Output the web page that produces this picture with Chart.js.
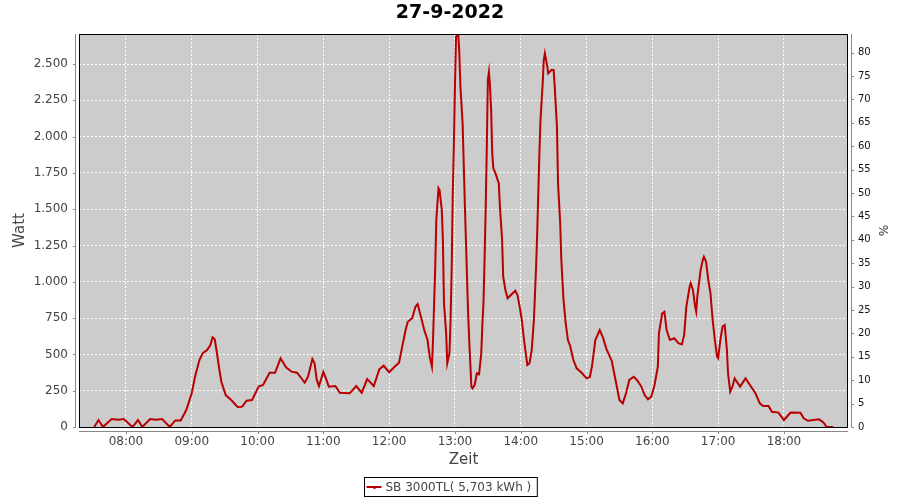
<!DOCTYPE html>
<html lang="de">

<head>
    <meta charset="UTF-8">
    <title>27-9-2022</title>
    <script src="https://cdn.jsdelivr.net/npm/chart.js"></script>
    <style>
        body { margin: 0; background: #fff; }
        #wrap { width: 900px; height: 500px; }
    </style>
</head>

<body>
    <div id="wrap"><canvas id="chart" width="900" height="500"></canvas></div>

    <script>
        // readings of the inverter, time of day and power in watt
        const times = ['07:31', '07:35', '07:39', '07:47', '07:53', '07:58', '08:06', '08:11', '08:15', '08:22',
            '08:27', '08:33', '08:40', '08:45', '08:50', '08:55', '09:00', '09:03', '09:07', '09:10',
            '09:14', '09:17', '09:19', '09:21', '09:23', '09:25', '09:27', '09:31', '09:36', '09:42',
            '09:46', '09:50', '09:55', '10:01', '10:05', '10:11', '10:16', '10:21', '10:26', '10:31',
            '10:36', '10:39', '10:43', '10:46', '10:50', '10:52', '10:54', '10:56', '11:00', '11:02',
            '11:05', '11:11', '11:15', '11:24', '11:30', '11:35', '11:40', '11:46', '11:51', '11:55',
            '12:00', '12:05', '12:09', '12:11', '12:15', '12:17', '12:21', '12:24', '12:26', '12:29',
            '12:32', '12:35', '12:37', '12:39', '12:40', '12:42', '12:43', '12:45', '12:46', '12:48',
            '12:49', '12:50', '12:52', '12:53', '12:55', '12:56', '12:57', '12:58', '12:59', '13:00',
            '13:01', '13:03', '13:04', '13:05', '13:07', '13:08', '13:09', '13:11', '13:12', '13:13',
            '13:15', '13:16', '13:18', '13:20', '13:22', '13:24', '13:25', '13:26', '13:27', '13:28',
            '13:29', '13:30', '13:31', '13:32', '13:33', '13:34', '13:35', '13:37', '13:40', '13:41',
            '13:43', '13:44', '13:46', '13:48', '13:51', '13:55', '13:57', '13:59', '14:01', '14:03',
            '14:05', '14:06', '14:08', '14:10', '14:12', '14:14', '14:15', '14:16', '14:17', '14:18',
            '14:20', '14:21', '14:22', '14:24', '14:25', '14:28', '14:30', '14:31', '14:33', '14:34',
            '14:36', '14:37', '14:39', '14:41', '14:43', '14:45', '14:48', '14:51', '14:56', '15:00',
            '15:03', '15:05', '15:08', '15:12', '15:15', '15:18', '15:23', '15:27', '15:30', '15:33',
            '15:36', '15:39', '15:43', '15:46', '15:50', '15:53', '15:56', '15:59', '16:02', '16:05',
            '16:06', '16:09', '16:11', '16:13', '16:16', '16:20', '16:24', '16:27', '16:29', '16:31',
            '16:34', '16:35', '16:37', '16:39', '16:40', '16:41', '16:44', '16:46', '16:47', '16:49',
            '16:51', '16:53', '16:55', '16:57', '16:59', '17:00', '17:02', '17:04', '17:06', '17:08',
            '17:09', '17:11', '17:13', '17:15', '17:20', '17:25', '17:29', '17:34', '17:38', '17:41',
            '17:46', '17:49', '17:55', '18:00', '18:06', '18:15', '18:18', '18:22', '18:32', '18:36',
            '18:39', '18:45'];
        const watts = [0, 48, 0, 55, 50, 55, 0, 48, 0, 55,
            50, 55, 0, 45, 45, 117, 232, 346, 461, 508,
            530, 565, 618, 604, 508, 404, 312, 220, 186, 136,
            140, 181, 186, 278, 289, 374, 374, 473, 411, 381,
            374, 346, 305, 346, 468, 439, 324, 282, 379, 342,
            278, 282, 236, 232, 282, 236, 330, 282, 397, 422,
            377, 415, 443, 519, 668, 725, 749, 829, 847, 760,
            668, 599, 484, 415, 599, 1093, 1426, 1644, 1630, 1494,
            1288, 852, 645, 439, 508, 737, 1081, 1600, 1930, 2343,
            2688, 2707, 2574, 2343, 2092, 1816, 1541, 1035, 783, 599,
            278, 266, 289, 370, 363, 508, 702, 852, 1150, 1494,
            1908, 2390, 2447, 2343, 2183, 1885, 1782, 1747, 1678, 1517,
            1288, 1035, 944, 886, 909, 939, 909, 829, 737, 599,
            484, 427, 439, 530, 737, 1104, 1334, 1609, 1885, 2114,
            2367, 2528, 2574, 2493, 2436, 2459, 2459, 2343, 2068, 1678,
            1400, 1150, 875, 714, 599, 560, 461, 404, 370, 335,
            344, 420, 599, 668, 615, 540, 455, 301, 186, 163,
            232, 324, 346, 324, 278, 220, 191, 209, 289, 415,
            645, 783, 794, 668, 599, 611, 576, 570, 634, 829,
            966, 990, 944, 829, 794, 897, 1081, 1150, 1173, 1138,
            1012, 921, 737, 599, 484, 473, 599, 691, 702, 530,
            370, 243, 278, 335, 278, 335, 289, 232, 163, 145,
            145, 105, 99, 48, 100, 99, 60, 43, 53, 32,
            0, 0];

        // tick values of the three axes
        const hourTicks = ['08:00', '09:00', '10:00', '11:00', '12:00', '13:00', '14:00', '15:00', '16:00', '17:00', '18:00'];
        const wattTicks = [0, 250, 500, 750, 1000, 1250, 1500, 1750, 2000, 2250, 2500];
        const percentTicks = [0, 5, 10, 15, 20, 25, 30, 35, 40, 45, 50, 55, 60, 65, 70, 75, 80];

        const seriesLabel = 'SB 3000TL( 5,703 kWh )';
        const chartTitle = '27-9-2022';

        // axis ranges (minutes since midnight for the time axis)
        const timeMin = 437.2, timeMax = 1138.4;
        const wattMax = 2707;
        const percentMax = 84;

        function toMinutes(t) {
            const p = t.split(':');
            return parseInt(p[0]) * 60 + parseInt(p[1]);
        }
        function fmtTime(m) {
            const h = Math.floor(m / 60), mm = Math.round(m % 60);
            return String(h).padStart(2, '0') + ':' + String(mm).padStart(2, '0');
        }
        function fmtWatt(v) {
            // german thousands separator
            return String(Math.round(v)).replace(/\B(?=(\d{3})+(?!\d))/g, '.');
        }

        const points = times.map((t, i) => ({ x: toMinutes(t), y: watts[i] }));

        Chart.defaults.font.family = "'DejaVu Sans', sans-serif";

        // grey plot background, black frame, detached axis lines like JFreeChart
        const plotFrame = {
            id: 'plotFrame',
            beforeDraw(chart) {
                const { ctx, chartArea: a } = chart;
                ctx.save();
                ctx.fillStyle = '#fff';
                ctx.fillRect(0, 0, chart.width, chart.height);
                ctx.fillStyle = '#cccccc';
                ctx.fillRect(a.left, a.top, a.right - a.left, a.bottom - a.top);
                ctx.restore();
            },
            afterDraw(chart) {
                const { ctx, chartArea: a, scales } = chart;
                ctx.save();
                ctx.strokeStyle = '#000';
                ctx.lineWidth = 1;
                ctx.strokeRect(a.left + 0.5, a.top + 0.5, a.right - a.left - 1, a.bottom - a.top);

                ctx.strokeStyle = '#888';
                ctx.beginPath();
                // left axis
                ctx.moveTo(a.left - 3.5, a.top);
                ctx.lineTo(a.left - 3.5, a.bottom);
                scales.y.ticks.forEach(t => {
                    const py = Math.round(scales.y.getPixelForValue(t.value)) + 0.5;
                    ctx.moveTo(a.left - 6, py);
                    ctx.lineTo(a.left - 3.5, py);
                });
                // right axis
                ctx.moveTo(a.right + 3.5, a.top);
                ctx.lineTo(a.right + 3.5, a.bottom);
                scales.y2.ticks.forEach(t => {
                    const py = Math.round(scales.y2.getPixelForValue(t.value)) + 0.5;
                    ctx.moveTo(a.right + 3.5, py);
                    ctx.lineTo(a.right + 6, py);
                });
                // bottom axis
                ctx.moveTo(a.left, a.bottom + 4.5);
                ctx.lineTo(a.right, a.bottom + 4.5);
                scales.x.ticks.forEach(t => {
                    const px = Math.round(scales.x.getPixelForValue(t.value)) + 0.5;
                    ctx.moveTo(px, a.bottom + 4.5);
                    ctx.lineTo(px, a.bottom + 7);
                });
                ctx.stroke();

                // legend box at the bottom
                const ds = chart.data.datasets[0];
                ctx.font = "12px 'DejaVu Sans'";
                const tw = ctx.measureText(ds.label).width;
                const bw = tw + 27, bx = Math.round(450 - bw / 2) + 0.5, by = 477.5, bh = 19;
                ctx.strokeStyle = '#000';
                ctx.strokeRect(bx, by, bw, bh);
                ctx.strokeStyle = ds.borderColor;
                ctx.lineWidth = 2;
                ctx.beginPath();
                ctx.moveTo(bx + 2, 487);
                ctx.lineTo(bx + 17, 487);
                ctx.stroke();
                ctx.fillStyle = ds.borderColor;
                ctx.fillRect(bx + 9, 487, 2, 2);
                ctx.fillStyle = '#444';
                ctx.textBaseline = 'middle';
                ctx.fillText(ds.label, bx + 21, 487.5);
                ctx.restore();
            }
        };

        new Chart(document.getElementById('chart'), {
            type: 'line',
            data: {
                datasets: [{
                    label: seriesLabel,
                    data: points,
                    borderColor: '#b80000',
                    borderWidth: 2,
                    pointRadius: 0,
                    tension: 0,
                    fill: false,
                    yAxisID: 'y'
                }]
            },
            options: {
                responsive: false,
                animation: false,
                layout: { padding: { left: 0, right: 0, top: 0, bottom: 31 } },
                plugins: {
                    legend: { display: false },
                    tooltip: { enabled: false },
                    title: {
                        display: true,
                        text: chartTitle,
                        color: '#000',
                        font: { size: 19, weight: 'bold' },
                        padding: { top: 1.8, bottom: 9.4 }
                    }
                },
                scales: {
                    x: {
                        type: 'linear',
                        min: timeMin,
                        max: timeMax,
                        afterFit: s => { s.height = 42; },
                        afterBuildTicks: s => { s.ticks = hourTicks.map(h => ({ value: toMinutes(h) })); },
                        grid: { color: '#fff', lineWidth: 1, drawTicks: false },
                        border: { display: false, dash: [2, 2] },
                        ticks: {
                            autoSkip: false,
                            maxRotation: 0,
                            padding: 8,
                            color: '#444',
                            font: { size: 12 },
                            callback: v => fmtTime(v)
                        },
                        title: {
                            display: true,
                            text: 'Zeit',
                            color: '#444',
                            font: { size: 15 },
                            padding: { top: 0, bottom: 0 }
                        }
                    },
                    y: {
                        position: 'left',
                        min: 0,
                        max: wattMax,
                        afterFit: s => { s.width = 79; },
                        afterBuildTicks: s => { s.ticks = wattTicks.map(v => ({ value: v })); },
                        grid: { color: '#fff', lineWidth: 1, drawTicks: false },
                        border: { display: false, dash: [2, 2] },
                        ticks: {
                            autoSkip: false,
                            padding: 11,
                            color: '#444',
                            font: { size: 12 },
                            callback: v => fmtWatt(v)
                        },
                        title: {
                            display: true,
                            text: 'Watt',
                            color: '#444',
                            font: { size: 15 },
                            padding: { top: 11, bottom: 0 }
                        }
                    },
                    y2: {
                        position: 'right',
                        axis: 'y',
                        min: 0,
                        max: percentMax,
                        afterFit: s => { s.width = 52; },
                        afterBuildTicks: s => { s.ticks = percentTicks.map(v => ({ value: v })); },
                        grid: { display: false, drawTicks: false },
                        border: { display: false },
                        ticks: {
                            autoSkip: false,
                            padding: 10,
                            color: '#111',
                            font: { size: 10 }
                        },
                        title: {
                            display: true,
                            text: '%',
                            color: '#333',
                            font: { size: 12 },
                            padding: { top: 11, bottom: 0 }
                        }
                    }
                }
            },
            plugins: [plotFrame]
        });
    </script>
</body>

</html>
